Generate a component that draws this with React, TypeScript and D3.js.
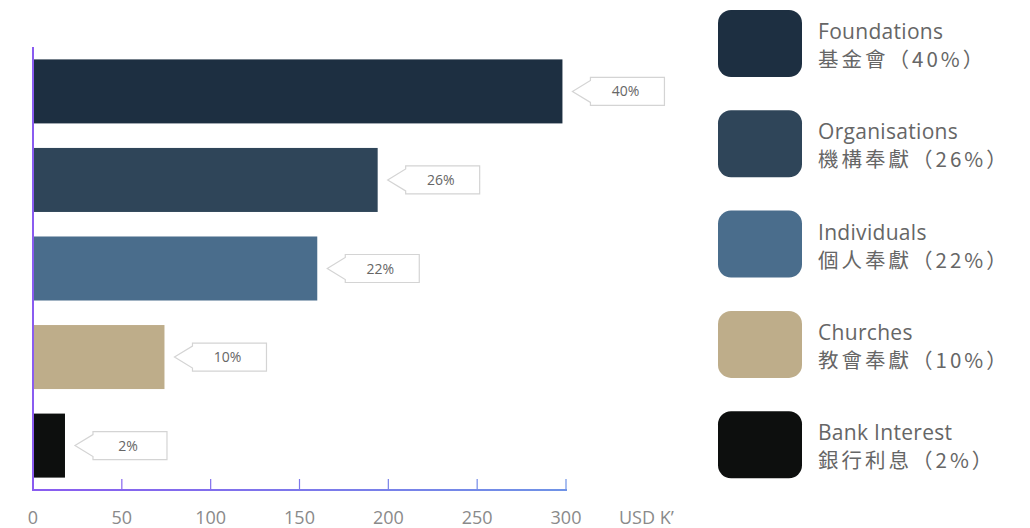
import React from "react";
import * as d3 from "d3";

const categories = ["Foundations", "Organisations", "Individuals", "Churches", "Bank Interest"];
const chineseLabels = ["基金會（40%）", "機構奉獻（26%）", "個人奉獻（22%）", "教會奉獻（10%）", "銀行利息（2%）"];
const values = [298, 194, 160, 74, 18];
const percentLabels = ["40%", "26%", "22%", "10%", "2%"];
const colors = ["#1d2f41", "#2f4559", "#4a6d8c", "#bead8a", "#0d0f0e"];
const xTicks = [0, 50, 100, 150, 200, 250, 300];
const unitLabel = "USD K’";

export default function App() {
  const W = 1030, H = 528;
  const x0 = 33, x1 = 566, yTop = 47, yBot = 490;
  const x = d3.scaleLinear().domain([0, 300]).range([x0, x1]);
  const y = d3.scaleBand<string>().domain(categories).range([yTop, yBot]).paddingInner(0.277).paddingOuter(0.14);
  const font = "'Open Sans', 'Noto Sans', sans-serif";
  const cjkFont = "'Noto Sans CJK TC', 'Open Sans', sans-serif";

  return (
    <svg width={W} height={H} style={{ position: "absolute", left: 0, top: 0, background: "#fff" }}>
      <defs>
        <linearGradient id="axisGrad" x1="0" x2="1" y1="0" y2="0">
          <stop offset="0%" stopColor="#8a5cf0" />
          <stop offset="100%" stopColor="#6f93e6" />
        </linearGradient>
      </defs>
      {categories.map((c, i) => {
        const by = y(c)!;
        const bh = y.bandwidth();
        const xe = x(values[i]);
        const cy = by + bh / 2;
        const tip = xe + 10;
        const bl = tip + 18;
        const bw = 74;
        const bt = cy - 14;
        const bb = cy + 14;
        const path = `M${tip},${cy} L${bl},${bt + 3} L${bl},${bt} L${bl + bw},${bt} L${bl + bw},${bb} L${bl},${bb} L${bl},${bb - 3} Z`;
        return (
          <g key={c}>
            <rect x={x0} y={by} width={xe - x0} height={bh} fill={colors[i]} />
            <path d={path} fill="#fff" stroke="#d4d4d4" strokeWidth={1.2} />
            <text x={bl + bw / 2 - 2} y={cy + 5} textAnchor="middle" fontFamily={font} fontSize={14} fill="#666">
              {percentLabels[i]}
            </text>
          </g>
        );
      })}
      <line x1={x0} x2={x0} y1={yTop} y2={yBot} stroke="#8a5cf0" strokeWidth={2} />
      <rect x={x0 - 1} y={yBot - 1} width={x1 - x0 + 2} height={2} fill="url(#axisGrad)" />
      {xTicks.map((t) => {
        const c = d3.interpolateRgb("#8a5cf0", "#6f93e6")((x(t) - x0) / (x1 - x0));
        return (
          <g key={t}>
            <line x1={x(t)} x2={x(t)} y1={yBot - 11} y2={yBot} stroke={c} strokeWidth={1.2} />
            <text x={x(t)} y={524} textAnchor="middle" fontFamily={font} fontSize={18} fill="#8a8a8a">
              {t}
            </text>
          </g>
        );
      })}
      <text x={619} y={524} fontFamily={font} fontSize={18} fill="#8a8a8a">{unitLabel}</text>
      {categories.map((c, i) => {
        const ly = 10 + i * 100.3;
        return (
          <g key={"lg" + c}>
            <rect x={718} y={ly} width={84} height={67} rx={13} fill={colors[i]} />
            <text x={818} y={ly + 29} fontFamily={font} fontSize={21} fill="#666" letterSpacing={0.3}>{c}</text>
            <text x={818} y={ly + 57} fontFamily={cjkFont} fontSize={20.5} fill="#666" letterSpacing={3}>
              {chineseLabels[i]}
            </text>
          </g>
        );
      })}
    </svg>
  );
}
